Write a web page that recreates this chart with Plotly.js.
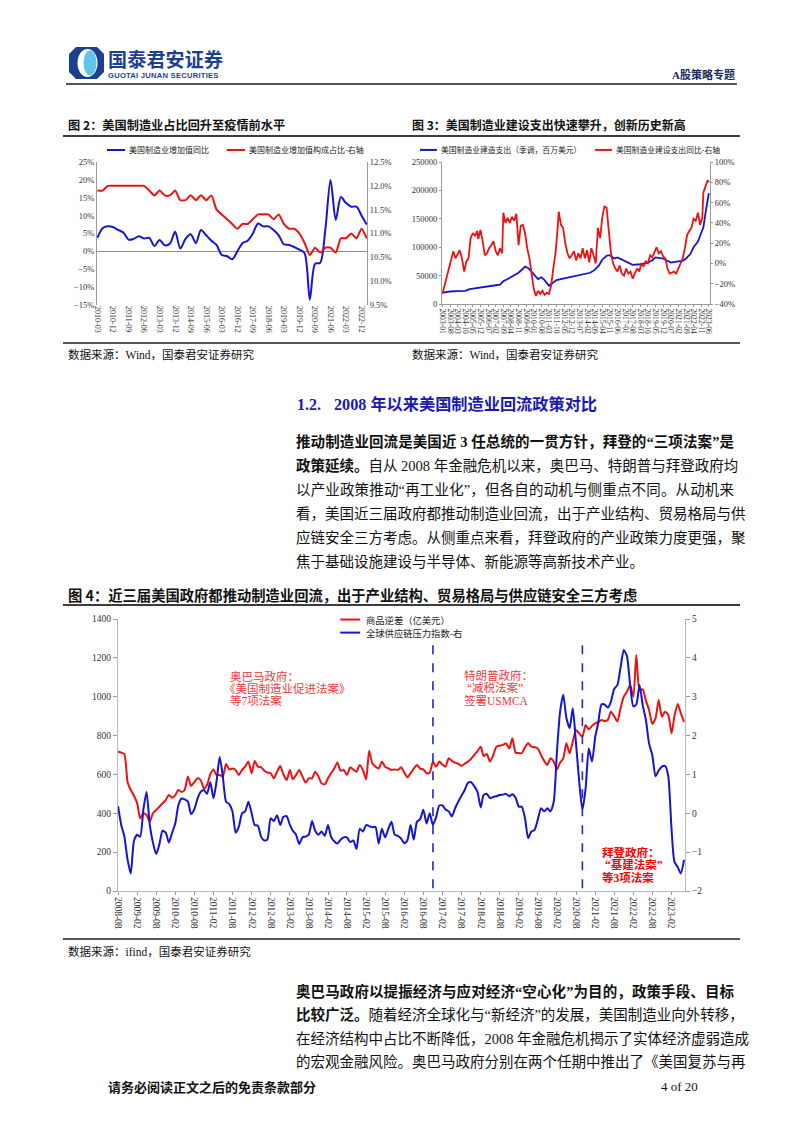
<!DOCTYPE html>
<html><head><meta charset="utf-8">
<script src="https://cdn.plot.ly/plotly-3.0.1.min.js"></script>
<style>
html,body{margin:0;padding:0;background:#fff;}
#page{position:relative;width:802px;height:1133px;overflow:hidden;background:#fff;font-family:"Liberation Serif","Noto Sans CJK SC",serif;color:#111;}
.abs{position:absolute;white-space:nowrap;}
.hr{position:absolute;background:#3c3c3c;}
.ln{position:absolute;left:296px;width:438px;height:22px;line-height:22px;font-size:14.5px;text-align:justify;text-align-last:justify;white-space:nowrap;color:#111;}
.ln.last{text-align-last:left;}
.cap{font-family:"Noto Sans CJK SC",sans-serif;font-weight:bold;color:#111;}
.src{font-size:11.5px;color:#111;}
b{font-weight:bold;}
.chart{position:absolute;}
</style></head>
<body><div id="page">

<!-- header -->
<svg class="abs" style="left:68px;top:46px" width="37" height="34" viewBox="0 0 37 34">
  <path d="M8,1 H29 L36,8 V26 L29,33 H8 L1,26 V8 Z" fill="#1d3f8f"/>
  <ellipse cx="19.5" cy="17" rx="10" ry="14" fill="#ffffff"/>
  <ellipse cx="22" cy="17" rx="6.5" ry="12.5" fill="#62c4e6"/>
</svg>
<div class="abs" style="left:108px;top:48px;font-family:'Noto Sans CJK SC';font-weight:bold;font-size:19px;line-height:22px;color:#1d3f8f;letter-spacing:0.2px;">国泰君安证券</div>
<div class="abs" style="left:108px;top:71px;font-family:'Liberation Sans';font-weight:bold;font-size:7.6px;line-height:9px;color:#1d3f8f;letter-spacing:0.25px;">GUOTAI JUNAN SECURITIES</div>
<div class="abs" style="right:67px;top:67px;font-family:'Liberation Serif','Noto Sans CJK SC';font-weight:bold;font-size:11px;line-height:16px;color:#1c2a5a;">A股策略专题</div>
<div class="hr" style="left:66px;top:83px;width:671px;height:2px;background:#555;"></div>

<!-- figure 2 & 3 titles -->
<div class="abs cap" style="left:68px;top:117px;font-size:12.2px;line-height:16px;">图 2：美国制造业占比回升至疫情前水平</div>
<div class="abs cap" style="left:412px;top:117px;font-size:12px;line-height:16px;">图 3：美国制造业建设支出快速攀升，创新历史新高</div>
<div class="hr" style="left:63px;top:135px;width:677px;height:2px;"></div>
<div id="c2" class="chart" style="left:63px;top:140px;width:342px;height:200px;"></div>
<div id="c3" class="chart" style="left:405px;top:140px;width:340px;height:200px;"></div>
<div class="hr" style="left:63px;top:342px;width:677px;height:1.5px;background:#555;"></div>
<div class="abs src" style="left:68px;top:347px;line-height:16px;">数据来源：Wind，国泰君安证券研究</div>
<div class="abs src" style="left:412px;top:347px;line-height:16px;">数据来源：Wind，国泰君安证券研究</div>

<!-- section heading -->
<div class="abs" style="left:297px;top:395px;font-size:16px;line-height:20px;font-weight:bold;color:#1a1ab0;">1.2.</div>
<div class="abs" style="left:334px;top:395px;font-size:16.2px;line-height:20px;font-weight:bold;color:#1a1ab0;">2008 年以来美国制造业回流政策对比</div>

<!-- paragraph 1 -->
<div class="ln" style="top:431px;"><b>推动制造业回流是美国近 3 任总统的一贯方针，拜登的“三项法案”是</b></div>
<div class="ln" style="top:455px;"><b>政策延续。</b>自从 2008 年金融危机以来，奥巴马、特朗普与拜登政府均</div>
<div class="ln" style="top:479px;">以产业政策推动“再工业化”，但各自的动机与侧重点不同。从动机来</div>
<div class="ln" style="top:503px;">看，美国近三届政府都推动制造业回流，出于产业结构、贸易格局与供</div>
<div class="ln" style="top:527px;">应链安全三方考虑。从侧重点来看，拜登政府的产业政策力度更强，聚</div>
<div class="ln last" style="top:551px;">焦于基础设施建设与半导体、新能源等高新技术产业。</div>

<!-- figure 4 -->
<div class="abs cap" style="left:68px;top:586px;font-size:14.3px;line-height:18px;">图 4：近三届美国政府都推动制造业回流，出于产业结构、贸易格局与供应链安全三方考虑</div>
<div class="hr" style="left:63px;top:604px;width:677px;height:2px;"></div>
<div id="c4" class="chart" style="left:63px;top:608px;width:680px;height:330px;"></div>
<div class="hr" style="left:63px;top:938px;width:677px;height:1.5px;background:#555;"></div>
<div class="abs src" style="left:68px;top:944px;line-height:16px;">数据来源：ifind，国泰君安证券研究</div>

<!-- paragraph 2 -->
<div class="ln" style="top:981px;"><b>奥巴马政府以提振经济与应对经济“空心化”为目的，政策手段、目标</b></div>
<div class="ln" style="top:1004px;"><b>比较广泛。</b>随着经济全球化与“新经济”的发展，美国制造业向外转移，</div>
<div class="ln" style="top:1028px;">在经济结构中占比不断降低，2008 年金融危机揭示了实体经济虚弱造成</div>
<div class="ln" style="top:1051px;">的宏观金融风险。奥巴马政府分别在两个任期中推出了《美国复苏与再</div>

<!-- footer -->
<div class="abs" style="left:108px;top:1079px;font-family:'Noto Sans CJK SC';font-weight:bold;font-size:13px;line-height:16px;">请务必阅读正文之后的免责条款部分</div>
<div class="abs" style="left:661px;top:1079px;font-size:13px;line-height:16px;">4 of 20</div>

</div>
<script>
// ---------- helpers ----------
function monthSeq(y, m, n, step) {
  const out = [];
  for (let i = 0; i < n; i++) {
    const t = (m - 1) + i * step;
    out.push((y + Math.floor(t / 12)) + '-' + String(t % 12 + 1).padStart(2, '0'));
  }
  return out;
}
const BLUE = '#1414d2';
const RED = '#ee1111';
const SERIF = '"Liberation Serif", "Noto Sans CJK SC", serif';
const CJK = '"Noto Sans CJK SC", "Liberation Serif", sans-serif';
const AXC = '#9a9a9a';

// ---------- Figure 2 data (quarterly) ----------
const c2Names = ['美国制造业增加值同比', '美国制造业增加值构成占比-右轴'];
const c2Quarters = monthSeq(2010, 3, 53, 3);
const c2Yoy = [3.8,6.5,7.0,6.8,6.0,5.3,3.3,3.5,4.2,3.6,3.8,1.5,3.2,1.7,2.2,5.5,0.8,3.5,4.8,2.3,
  6.0,4.5,3.0,1.8,-1.0,-1.3,-2.2,0.0,2.3,3.0,5.0,7.8,7.0,7.0,6.0,4.5,2.0,1.8,1.2,0.5,
  -0.5,-13.5,-3.5,-3.2,6.0,20.0,8.8,15.2,13.5,12.5,12.5,10.0,7.5];
const c2Share = [11.9,11.9,12.0,12.0,12.0,12.0,12.0,12.0,12.0,12.0,11.9,11.8,11.9,11.8,11.8,11.9,11.7,11.7,11.8,11.7,
  11.8,11.7,11.8,11.5,11.4,11.3,11.2,11.1,11.2,11.2,11.3,11.4,11.4,11.4,11.3,11.4,11.2,11.1,11.1,11.0,
  10.8,10.55,10.7,10.6,10.7,10.7,10.6,10.9,10.9,11.0,10.9,11.1,10.9];
const c2Ticks = ['2010-03','2010-12','2011-09','2012-06','2013-03','2013-12','2014-09','2015-06','2016-03',
  '2016-12','2017-09','2018-06','2019-03','2019-12','2020-09','2021-06','2022-03','2022-12'];

// ---------- Figure 3 data ----------
const c3Names = ['美国制造业建造支出（季调，百万美元）', '美国制造业建设支出同比-右轴'];
const c3SpendDates = ['2003-01','2003-08','2004-03','2004-10','2005-02','2005-05','2005-12','2006-07','2007-02','2007-06',
  '2007-09','2008-01','2008-04','2008-11','2009-03','2009-05','2009-08','2010-01','2010-05','2010-08',
  '2010-11','2011-03','2011-06','2011-10','2012-05','2012-12','2013-07','2014-02','2014-05','2014-09',
  '2015-01','2015-04','2015-08','2015-11','2016-03','2016-06','2016-10','2017-01','2017-08','2018-03',
  '2018-10','2019-02','2019-05','2019-12','2020-04','2020-07','2021-02','2021-06','2021-09','2022-01',
  '2022-04','2022-08','2022-11','2023-01','2023-03','2023-05','2023-06'];
const c3Spend = [20000,22000,22500,23000,26000,27000,28500,31000,33000,34000,
  40000,44000,47000,55000,62000,66000,63000,52000,44000,47000,
  42000,32000,36000,42000,45000,48000,50000,54000,55000,60000,
  68000,78000,85000,86000,80000,82000,78000,75000,69000,70000,
  73000,77000,82000,80000,76000,73000,75000,76000,80000,88000,
  100000,110000,125000,135000,160000,190000,195000];
const c3YoyDates = ['2003-01','2003-03','2003-05','2003-07','2003-09','2003-11','2004-01','2004-03','2004-05','2004-07','2004-09','2004-11',
  '2005-01','2005-03','2005-05','2005-07','2005-09','2005-10','2005-12','2006-02','2006-04','2006-06','2006-08','2006-10',
  '2006-12','2007-02','2007-04','2007-06','2007-08','2007-09','2007-11','2008-01','2008-03','2008-05','2008-07','2008-09',
  '2008-11','2009-01','2009-03','2009-05','2009-07','2009-09','2009-11','2010-01','2010-03','2010-05','2010-07','2010-09',
  '2010-11','2011-01','2011-03','2011-05','2011-07','2011-09','2011-11','2011-12','2012-02','2012-04','2012-06','2012-08',
  '2012-10','2012-12','2013-02','2013-04','2013-06','2013-08','2013-10','2013-12','2014-02','2014-04','2014-06','2014-08',
  '2014-10','2014-12','2015-02','2015-04','2015-06','2015-08','2015-10','2015-12','2016-02','2016-04','2016-06','2016-08',
  '2016-10','2016-12','2017-02','2017-04','2017-06','2017-08','2017-10','2017-12','2018-02','2018-04','2018-06','2018-08',
  '2018-10','2018-12','2019-02','2019-04','2019-06','2019-08','2019-10','2019-12','2020-02','2020-04','2020-06','2020-08',
  '2020-10','2020-12','2021-02','2021-04','2021-06','2021-08','2021-10','2021-12','2022-02','2022-04','2022-06','2022-08',
  '2022-10','2022-12','2023-01','2023-03','2023-05','2023-06'];
const c3Yoy = [-30,-22,-15,-5,2,12,5,9,13,5,-8,2,
  5,25,30,27,32,24,33,22,8,10,15,18,
  22,12,8,15,10,50,40,45,40,46,42,49,
  18,37,38,30,15,5,-10,-25,-32,-27,-30,-27,
  -31,-29,-30,-22,-5,10,35,51,38,35,20,10,
  5,8,12,3,10,5,15,5,13,1,15,8,
  0,35,25,45,56,55,35,10,0,-5,-8,-2,
  -10,-12,-5,-10,-8,-15,-10,-5,-8,0,-3,2,
  0,8,6,12,16,10,12,7,5,-5,-10,-9,
  -8,-10,-5,0,5,15,28,32,35,44,42,50,
  38,45,70,76,82,80];
const c3Ticks = ['2003-01','2003-08','2004-03','2004-10','2005-05','2005-12','2006-07','2007-02','2007-09','2008-04',
  '2008-11','2009-06','2010-01','2010-08','2011-03','2011-10','2012-05','2012-12','2013-07','2014-02',
  '2014-09','2015-04','2015-11','2016-06','2017-01','2017-08','2018-03','2018-10','2019-05','2019-12',
  '2020-07','2021-02','2021-09','2022-04','2022-11','2023-06'];

// ---------- Figure 4 data (monthly 2008-08 .. 2023-06) ----------
const c4Names = ['商品逆差（亿美元）', '全球供应链压力指数-右'];
const c4Months = monthSeq(2008, 8, 179, 1);
const c4Deficit = [717,712,705,560,520,490,451,374,400,391,
  357,400,417,434,451,468,494,480,494,520,
  510,520,589,541,560,580,571,528,546,600,
  626,597,597,589,654,626,630,623,597,623,
  640,666,606,669,640,637,619,610,606,580,
  614,643,600,571,623,575,597,623,590,558,
  580,580,614,590,554,549,580,606,630,661,
  619,623,597,637,625,614,649,623,575,722,
  657,640,631,666,640,631,623,626,623,637,
  610,585,606,630,649,630,626,606,609,666,
  640,666,650,640,683,670,661,655,644,655,
  666,680,700,720,743,695,705,666,700,743,
  748,752,760,734,786,712,710,709,740,760,
  743,740,734,700,670,649,683,666,626,660,
  683,760,709,769,829,810,794,855,832,850,
  863,870,880,875,880,923,900,872,940,1000,
  1026,1060,1000,1215,1035,1038,980,932,860,889,
  983,897,923,906,812,900,963,915,870];
const c4Gscpi = [0.19,-0.3,-0.6,-1.2,-1.55,-0.7,-0.55,-0.6,0.1,0.55,
  -0.3,-0.75,-1.05,-0.8,-0.45,-0.5,-0.75,-0.5,-0.25,0.2,
  0.38,0.36,0.3,-0.02,0.1,0.38,0.55,0.6,0.5,0.8,
  0.39,0.8,1.45,0.95,0.3,0.24,0.05,-0.5,-0.35,0.0,
  0.05,0.3,0.0,-0.3,-0.32,-0.6,-0.7,-0.67,-0.13,-0.2,
  -0.05,-0.3,-0.09,-0.07,-0.3,-0.45,-0.55,-0.79,-0.62,-0.6,
  -0.55,-0.2,-0.45,-0.55,-0.47,-0.58,-0.3,-0.6,-0.72,-0.78,
  -0.68,-0.62,-0.62,-0.74,-0.7,-0.92,-0.4,-0.47,-0.3,-0.33,
  -0.36,-0.35,-0.78,-0.4,-0.62,-0.4,-0.22,-0.55,-0.58,-0.65,
  -0.77,-0.7,-0.3,-0.68,-0.22,-0.15,0.09,-0.26,0.0,-0.3,
  -0.1,0.2,0.2,0.1,0.05,-0.08,0.13,0.3,0.45,0.6,
  0.78,0.8,0.7,0.55,0.15,0.47,0.5,0.39,0.42,0.44,
  0.47,0.48,0.5,0.44,0.49,0.4,0.17,0.17,-0.13,-0.64,
  -0.47,-0.43,-0.17,0.13,0.05,0.13,0.05,0.3,1.6,2.6,
  3.05,2.45,2.19,2.7,1.8,0.8,0.09,0.64,1.67,1.33,
  1.97,2.31,2.8,2.8,2.72,2.87,3.2,3.3,3.75,4.2,
  4.05,3.3,2.75,2.8,3.3,2.79,2.4,1.8,1.5,0.95,
  1.1,1.2,1.22,0.95,-0.4,-1.25,-1.38,-1.55,-1.2];
const c4Ticks = ['2008-08','2009-02','2009-08','2010-02','2010-08','2011-02','2011-08','2012-02','2012-08','2013-02',
  '2013-08','2014-02','2014-08','2015-02','2015-08','2016-02','2016-08','2017-02','2017-08','2018-02',
  '2018-08','2019-02','2019-08','2020-02','2020-08','2021-02','2021-08','2022-02','2022-08','2023-02'];
const c4Elections = ['2016-11', '2020-10'];
const c4Notes = [
  {lines: ['奥巴马政府：', '《美国制造业促进法案》', '等7项法案'], bold: false},
  {lines: ['特朗普政府：', '“减税法案”', '签署USMCA'], bold: false},
  {lines: ['拜登政府：', '“基建法案”', '等3项法案'], bold: true}
];

const config = {staticPlot: true, displayModeBar: false};

function legendItems(items, fontSize) {
  const shapes = [], anns = [];
  items.forEach(it => {
    shapes.push({type: 'line', xref: 'paper', yref: 'paper', x0: it.x0, x1: it.x1, y0: it.y, y1: it.y,
      line: {color: it.color, width: 2}});
    anns.push({xref: 'paper', yref: 'paper', x: it.x1 + it.gap, y: it.y, xanchor: 'left', yanchor: 'middle',
      text: it.text, showarrow: false, font: {family: CJK, size: fontSize, color: '#222'}});
  });
  return {shapes, anns};
}

// ---------- Figure 2 ----------
(function () {
  const leg = legendItems([
    {x0: 0.037, x1: 0.104, gap: 0.008, y: 1.084, color: BLUE, text: c2Names[0]},
    {x0: 0.481, x1: 0.548, gap: 0.008, y: 1.084, color: RED, text: c2Names[1]}
  ], 8);
  const traces = [
    {x: c2Quarters, y: c2Yoy, type: 'scatter', mode: 'lines', name: c2Names[0],
      line: {color: BLUE, width: 2, shape: 'spline', smoothing: 0.8}},
    {x: c2Quarters, y: c2Share, type: 'scatter', mode: 'lines', name: c2Names[1], yaxis: 'y2',
      line: {color: RED, width: 2, shape: 'spline', smoothing: 0.6}}
  ];
  const layout = {
    width: 342, height: 200, margin: {l: 34, r: 38, t: 22, b: 35},
    paper_bgcolor: '#fff', plot_bgcolor: '#fff', showlegend: false,
    font: {family: SERIF, size: 8, color: '#333'},
    xaxis: {type: 'date', range: ['2010-02-22', '2023-03-06'], tickmode: 'array', tickvals: c2Ticks, ticktext: c2Ticks,
      tickangle: 90, tickfont: {size: 8, family: SERIF, color: '#333'}, showgrid: false, zeroline: false, showline: false, ticks: ''},
    yaxis: {range: [-15, 25], dtick: 5, ticksuffix: '%', showgrid: false, zeroline: true, zerolinecolor: '#8c8c8c', zerolinewidth: 1,
      showline: true, linecolor: AXC, linewidth: 1, ticks: '', tickfont: {size: 8.5, family: SERIF, color: '#333'}},
    yaxis2: {overlaying: 'y', side: 'right', range: [9.5, 12.5], dtick: 0.5, tickformat: '.1f', ticksuffix: '%', showgrid: false,
      zeroline: false, showline: true, linecolor: AXC, linewidth: 1, ticks: '', tickfont: {size: 8.5, family: SERIF, color: '#333'}},
    shapes: leg.shapes, annotations: leg.anns
  };
  Plotly.newPlot('c2', traces, layout, config);
})();

// ---------- Figure 3 ----------
(function () {
  const leg = legendItems([
    {x0: -0.082, x1: -0.019, gap: 0.008, y: 1.085, color: BLUE, text: c3Names[0]},
    {x0: 0.571, x1: 0.634, gap: 0.008, y: 1.085, color: RED, text: c3Names[1]}
  ], 7.8);
  const traces = [
    {x: c3SpendDates, y: c3Spend, type: 'scatter', mode: 'lines', name: c3Names[0],
      line: {color: BLUE, width: 1.8}},
    {x: c3YoyDates, y: c3Yoy, type: 'scatter', mode: 'lines', name: c3Names[1], yaxis: 'y2',
      line: {color: RED, width: 1.8}}
  ];
  const layout = {
    width: 340, height: 200, margin: {l: 37, r: 35, t: 22, b: 36},
    paper_bgcolor: '#fff', plot_bgcolor: '#fff', showlegend: false,
    font: {family: SERIF, size: 8, color: '#333'},
    xaxis: {type: 'date', range: ['2002-12-20', '2023-07-05'], tickmode: 'array', tickvals: c3Ticks, ticktext: c3Ticks,
      tickangle: 90, tickfont: {size: 7.6, family: SERIF, color: '#333'}, showgrid: false, zeroline: false,
      showline: true, linecolor: AXC, ticks: 'outside', ticklen: 2, tickcolor: AXC},
    yaxis: {range: [0, 250000], dtick: 50000, tickformat: 'd', showgrid: false, zeroline: false,
      showline: true, linecolor: AXC, ticks: 'outside', ticklen: 2, tickcolor: AXC, tickfont: {size: 8.5, family: SERIF, color: '#333'}},
    yaxis2: {overlaying: 'y', side: 'right', range: [-40, 100], dtick: 20, ticksuffix: '%', showgrid: false, zeroline: false,
      showline: true, linecolor: AXC, ticks: 'outside', ticklen: 2, tickcolor: AXC, tickfont: {size: 8.5, family: SERIF, color: '#333'}},
    shapes: leg.shapes, annotations: leg.anns
  };
  Plotly.newPlot('c3', traces, layout, config);
})();

// ---------- Figure 4 ----------
(function () {
  const leg = legendItems([
    {x0: 0.392, x1: 0.427, gap: 0.006, y: 0.998, color: RED, text: c4Names[0]},
    {x0: 0.392, x1: 0.427, gap: 0.006, y: 0.950, color: BLUE, text: c4Names[1]}
  ], 9.3);
  const shapes = leg.shapes.slice();
  c4Elections.forEach(d => shapes.push({type: 'line', xref: 'x', yref: 'paper', x0: d, x1: d, y0: 0.01, y1: 0.934,
    line: {color: '#1a2ad8', width: 1.6, dash: 'dash'}}));
  const anns = leg.anns.slice();
  const noteX = [[0.194, 0.183, 0.194], [0.607, 0.612, 0.607], [0.850, 0.855, 0.850]];
  const noteY = [[0.790, 0.746, 0.699], [0.794, 0.750, 0.702], [0.143, 0.096, 0.051]];
  c4Notes.forEach((n, i) => n.lines.forEach((t, j) => anns.push({
    xref: 'paper', yref: 'paper', x: noteX[i][j], y: noteY[i][j], xanchor: 'left', yanchor: 'middle', showarrow: false,
    text: n.bold ? '<b>' + t + '</b>' : t,
    font: {family: SERIF, size: 11.5, color: n.bold ? '#ff0000' : '#f03a3a'}})));
  const traces = [
    {x: c4Months, y: c4Deficit, type: 'scatter', mode: 'lines', name: c4Names[0],
      line: {color: RED, width: 2, shape: 'spline', smoothing: 0.6}},
    {x: c4Months, y: c4Gscpi, type: 'scatter', mode: 'lines', name: c4Names[1], yaxis: 'y2',
      line: {color: BLUE, width: 2, shape: 'spline', smoothing: 0.6}}
  ];
  const layout = {
    width: 680, height: 330, margin: {l: 55, r: 58, t: 11, b: 47},
    paper_bgcolor: '#fff', plot_bgcolor: '#fff', showlegend: false,
    font: {family: SERIF, size: 9.5, color: '#333'},
    xaxis: {type: 'date', range: ['2008-08-01', '2023-06-10'], tickmode: 'array', tickvals: c4Ticks, ticktext: c4Ticks,
      tickangle: 90, tickfont: {size: 9.5, family: SERIF, color: '#333'}, showgrid: false, zeroline: false,
      showline: true, linecolor: '#b4bccb', ticks: 'outside', ticklen: 3, tickcolor: '#999'},
    yaxis: {range: [0, 1400], dtick: 200, showgrid: false, zeroline: false, showline: true, linecolor: '#b4bccb',
      ticks: 'outside', ticklen: 4, tickcolor: '#999', tickfont: {size: 9.5, family: SERIF, color: '#333'}},
    yaxis2: {overlaying: 'y', side: 'right', range: [-2, 5], dtick: 1, showgrid: false, zeroline: false, showline: true,
      linecolor: '#b4bccb', ticks: 'outside', ticklen: 4, tickcolor: '#999', tickfont: {size: 9.5, family: SERIF, color: '#333'}},
    shapes: shapes, annotations: anns
  };
  Plotly.newPlot('c4', traces, layout, config);
})();
</script>
</body></html>
